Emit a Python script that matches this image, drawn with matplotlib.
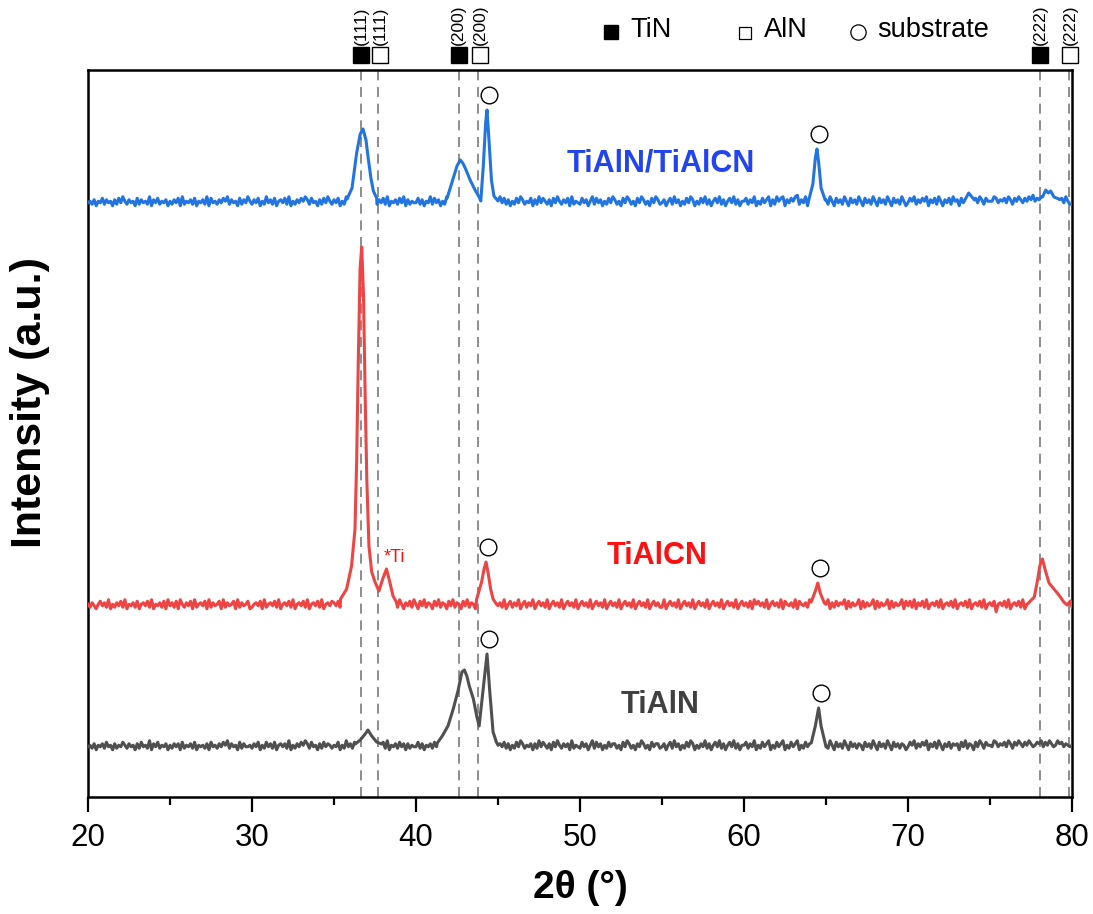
import numpy as np
import matplotlib
matplotlib.use("Agg")
import matplotlib.pyplot as plt

plt.rcParams['font.family'] = ['Liberation Sans', 'DejaVu Sans']

# ---------------- data ----------------
series_names = ["TiAlN", "TiAlCN", "TiAlN/TiAlCN"]
series_offsets = [51, 192, 595]          # vertical stacking offsets (a.u.)

# baseline noise, one digit per sample across 20-80 deg (digit 0-9, centred on 4.5)
noise_gray = (
    "4536254637452635475364526374538264735462"
    "5364627354637254536274536475836452736445"
    "3647253746372564638253647586374526374653"
    "5472538463725463747253647382546374626354"
    "4736254637462538476352648365274636452736"
    "5647362537486354626384753627485364628354"
    "3746258374625374663527486352648635274663"
    "4625738462537486253648362574836257483625"
    "5736482537468253746825374682537468253746"
    "4385274638527463652746385274638527463652"
    "4758364758264738526473656274836527486375"
    "5487465748637586475864576847586458674654"
    "5"
)
noise_red = (
    "5364257463825364738254637256473825463728"
    "4637285364728356472836457283645728364572"
    "3564728356473825647382564738256473825647"
    "6473825647385264738526473852647385264738"
    "5274836527483652748365274836527483652748"
    "4638257364825736482574638257463825746382"
    "5746382574638257463825746382574638257463"
    "3825746382574638257463825746382574638257"
    "4637285746382574638275463827546382754638"
    "5826374658273645827364582736458273645827"
    "4738264738256473825647382564738256473825"
    "6470564738256473825647382564738256473825"
    "4"
)
noise_blue = (
    "4536254736452637485364527364538264735462"
    "5364728354637254638274536475836452736485"
    "3647253846372564738253647586374526374853"
    "6472538463725463847253647382546374826354"
    "4736254837462538476352748365274836452736"
    "5847362537486354726384753627485364728354"
    "3746258374625374863527486352748635274863"
    "4625738462537486253748362574836257483625"
    "5736482537468263857826475893648275847364"
    "6385274638527463852746385274638527463852"
    "4758364758264738526473856274836527486375"
    "5587465748637586475869576847586958674853"
    "3"
)

# peak profiles: (2theta, height above baseline)
peaks_gray = [
    [(36.3, 2), (36.6, 6), (36.9, 12), (37.07, 16), (37.3, 10), (37.6, 4), (37.9, 2)],
    [(41.3, 3), (41.6, 10), (41.95, 20), (42.27, 37), (42.56, 55), (42.8, 74), (42.95, 76),
     (43.1, 70), (43.25, 60), (43.5, 47), (43.7, 30), (43.85, 20), (44.1, 58), (44.33, 92),
     (44.5, 54), (44.7, 14), (44.9, 4)],
    [(64.1, 3), (64.35, 20), (64.55, 38), (64.7, 20), (64.95, 3)],
]
peaks_red = [
    [(35.4, 6), (35.77, 16), (36.07, 39), (36.28, 76), (36.38, 143), (36.48, 243), (36.59, 336),
     (36.69, 358), (36.8, 309), (36.9, 209), (37.0, 126), (37.13, 59), (37.3, 33), (37.5, 23),
     (37.74, 14), (37.97, 26), (38.2, 36), (38.4, 23), (38.6, 9), (38.8, 3)],
    [(43.7, 6), (44.0, 23), (44.15, 36), (44.27, 43), (44.4, 32), (44.55, 16), (44.7, 6), (44.9, 1)],
    [(64.1, 3), (64.35, 14), (64.5, 22), (64.65, 12), (64.9, 2)],
    [(77.4, 3), (77.7, 8), (77.9, 25), (78.05, 40), (78.2, 46), (78.35, 36), (78.6, 22),
     (78.9, 16), (79.2, 10), (79.5, 3), (79.7, 0), (79.9, 4), (80.0, -2)],
]
peaks_blue = [
    [(35.8, 3), (36.1, 14), (36.38, 49), (36.6, 68), (36.77, 73), (36.95, 62), (37.1, 42),
     (37.25, 24), (37.4, 11), (37.6, 4)],
    [(41.9, 4), (42.2, 20), (42.5, 36), (42.7, 42), (42.85, 39), (43.0, 34), (43.3, 22),
     (43.6, 12), (43.85, 5), (43.95, 1), (44.1, 35), (44.25, 80), (44.33, 92), (44.45, 62),
     (44.6, 22), (44.75, 6), (45.0, 1)],
    [(63.95, 2), (64.2, 18), (64.35, 44), (64.45, 53), (64.55, 40), (64.7, 14), (64.95, 2)],
    [(73.5, 3), (73.7, 9), (73.85, 6), (74.05, 2)],
    [(78.2, 5), (78.4, 12), (78.55, 9), (78.7, 11), (78.9, 5), (79.2, 3)],
]

# reference lines (2theta) and labels
ref_tin = [36.65, 42.6, 78.05]
ref_aln = [37.7, 43.8, 79.8]
ref_hkl = ["(111)", "(200)", "(222)"]

substrate_peaks = {"TiAlN": [44.33, 64.55], "TiAlCN": [44.27, 64.5], "TiAlN/TiAlCN": [44.33, 64.45]}
substrate_heights = {"TiAlN": [92, 38], "TiAlCN": [43, 22], "TiAlN/TiAlCN": [92, 53]}

colors = ["#505050", "#EE4444", "#2275E0"]
label_colors = ["#404040", "#FF1010", "#2244EE"]


def build(noise, peaks):
    x = np.linspace(20, 80, len(noise))
    y = np.array([(int(c) - 4.5) * 1.5 for c in noise])
    keep = np.ones(len(x), bool)
    for pk in peaks:
        lo, hi = pk[0][0], pk[-1][0]
        keep &= ~((x >= lo) & (x <= hi))
    xs = list(x[keep])
    ys = list(y[keep])
    for pk in peaks:
        for a, h in pk:
            xs.append(a)
            ys.append(h)
    order = np.argsort(xs)
    return np.array(xs)[order], np.array(ys)[order]


fig = plt.figure(figsize=(10.93, 9.14), dpi=100)
ax = fig.add_axes([88 / 1093, 1 - 797 / 914, (1072 - 88) / 1093, (797 - 70) / 914])
ax.set_xlim(20, 80)
ax.set_ylim(0, 727)

for xv in ref_tin + ref_aln:
    ax.axvline(xv, color="#7a7a7a", lw=1.2, ls=(0, (6, 4)), zorder=1)

noises = [noise_gray, noise_red, noise_blue]
peaks = [peaks_gray, peaks_red, peaks_blue]
for name, nz, pk, off, col in zip(series_names, noises, peaks, series_offsets, colors):
    x, y = build(nz, pk)
    ax.plot(x, y + off, color=col, lw=2.2, zorder=3)
    for px, ph in zip(substrate_peaks[name], substrate_heights[name]):
        ax.plot(px + 0.15, off + ph + 15, marker="o", ms=12, mfc="white", mec="black",
                mew=1.0, ls="none", zorder=4)

# curve labels
ax.text(54.9, 634, "TiAlN/TiAlCN", color=label_colors[2], fontsize=22, fontweight="bold",
        ha="center", va="center")
ax.text(54.7, 241, "TiAlCN", color=label_colors[1], fontsize=22, fontweight="bold",
        ha="center", va="center")
ax.text(54.9, 92, "TiAlN", color=label_colors[0], fontsize=22, fontweight="bold",
        ha="center", va="center")
ax.text(38.0, 240, "*Ti", color="#FF1010", fontsize=13, ha="left", va="center")

# phase markers above the frame
for xv, lab in zip(ref_tin, ref_hkl):
    ax.plot(xv, 742, marker="s", ms=11, mfc="black", mec="black", ls="none", clip_on=False)
    ax.text(xv, 752, lab, rotation=90, fontsize=12.5, ha="center", va="bottom")
for xv, lab in zip(ref_aln, ref_hkl):
    ax.plot(xv + 0.1, 742, marker="s", ms=11, mfc="white", mec="black", mew=1.0,
            ls="none", clip_on=False)
    ax.text(xv + 0.1, 752, lab, rotation=90, fontsize=12.5, ha="center", va="bottom")

# legend-like key
ax.plot(51.92, 765, marker="s", ms=10, mfc="black", mec="black", ls="none", clip_on=False)
ax.text(53.1, 767, "TiN", fontsize=19.5, ha="left", va="center")
ax.plot(60.06, 764, marker="s", ms=9, mfc="white", mec="black", mew=0.9, ls="none", clip_on=False)
ax.text(61.2, 767, "AlN", fontsize=19.5, ha="left", va="center")
ax.plot(66.95, 765, marker="o", ms=11, mfc="white", mec="black", mew=0.9, ls="none", clip_on=False)
ax.text(68.1, 767, "substrate", fontsize=19.5, ha="left", va="center")

ax.set_xticks([20, 30, 40, 50, 60, 70, 80])
ax.set_xticks([25, 35, 45, 55, 65, 75], minor=True)
ax.set_yticks([])
ax.tick_params(axis="x", which="major", length=11, width=1.6, labelsize=22.5, pad=8, direction="out")
ax.tick_params(axis="x", which="minor", length=5.5, width=1.6, direction="out")
for sp in ax.spines.values():
    sp.set_linewidth(1.8)

ax.set_xlabel("2θ (°)", fontsize=28, fontweight="bold", labelpad=12)
ax.set_ylabel("Intensity (a.u.)", fontsize=31, fontweight="bold")
ax.yaxis.set_label_coords(-0.039, 0.543)

fig.savefig("out.png", dpi=100)
